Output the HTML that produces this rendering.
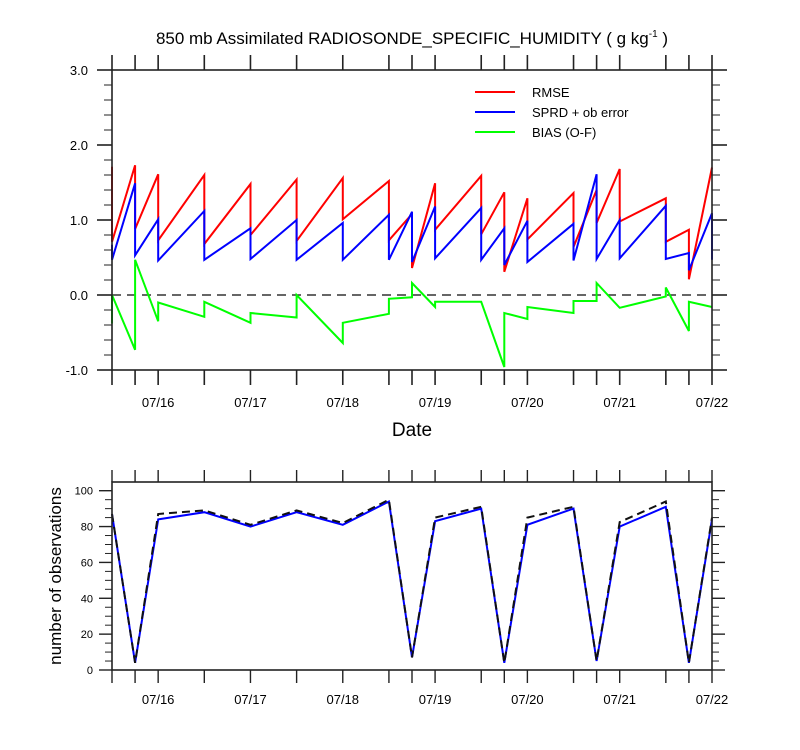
<!DOCTYPE html>
<html><head><meta charset="utf-8">
<style>
html,body{margin:0;padding:0;background:#fff;}
svg{display:block;font-family:"Liberation Sans",sans-serif;}
</style></head>
<body>
<svg id="chart" width="800" height="750" viewBox="0 0 800 750">
<text x="412" y="44" text-anchor="middle" font-size="17" fill="#000">850 mb Assimilated RADIOSONDE_SPECIFIC_HUMIDITY ( g kg<tspan dy="-7" font-size="10">-1</tspan><tspan dy="7"> )</tspan></text>
<text x="412" y="436" text-anchor="middle" font-size="19">Date</text>
<text transform="translate(61,576) rotate(-90)" text-anchor="middle" font-size="17">number of observations</text>
<g>
<line x1="475" y1="92" x2="515" y2="92" stroke="#f00" stroke-width="2"/>
<text x="532" y="97" font-size="13">RMSE</text>
<line x1="475" y1="112" x2="515" y2="112" stroke="#00f" stroke-width="2"/>
<text x="532" y="117" font-size="13">SPRD + ob error</text>
<line x1="475" y1="132" x2="515" y2="132" stroke="#0f0" stroke-width="2"/>
<text x="532" y="137" font-size="13">BIAS (O-F)</text>
</g>
</svg>
<script>
// hours since 07/15 12Z
const hours = [0,6,12,24,36,48,60,72,78,84,96,102,108,120,126,132,144,150,156];
const dateTicks = ["07/16","07/17","07/18","07/19","07/20","07/21","07/22"];
const dateTickHours = [12,36,60,84,108,132,156];
// value before assimilation (arrival) and after (departure) at each time
const rmseF = [1.71,1.73,1.61,1.60,1.48,1.54,1.56,1.52,1.08,1.49,1.59,1.37,1.29,1.36,1.40,1.68,1.29,0.87,1.70];
const rmseA = [0.71,0.88,0.73,0.68,0.80,0.72,1.01,0.73,0.36,0.87,0.81,0.31,0.74,0.64,0.96,0.98,0.71,0.21,1.70];
const sprdF = [0.67,1.49,1.01,1.12,0.89,1.00,0.96,1.07,1.11,1.18,1.16,0.89,0.99,0.95,1.61,1.00,1.19,0.56,1.09];
const sprdA = [0.47,0.53,0.46,0.47,0.48,0.47,0.47,0.47,0.44,0.49,0.47,0.40,0.44,0.46,0.48,0.49,0.48,0.33,0.47];
const biasF = [-0.38,-0.73,-0.35,-0.29,-0.37,-0.30,-0.64,-0.25,-0.03,-0.16,-0.09,-0.96,-0.32,-0.24,-0.08,-0.17,-0.02,-0.48,-0.16];
const biasA = [0.00,0.47,-0.10,-0.09,-0.24,0.00,-0.37,-0.05,0.16,-0.09,-0.09,-0.24,-0.16,-0.08,0.16,-0.17,0.10,-0.09,-0.16];
const obsUsed = [87,4,84,88,80,88,81,94,7,83,90,4,81,90,5,80,91,4,84];
const obsPossible = [87,4,87,89,81,89,82,95,7,85,91,4,85,91,5,82.5,94,4,85];
const topTicks = [3.0,2.0,1.0,0.0,-1.0];
const topTickLabels = ["3.0","2.0","1.0","0.0","-1.0"];
const botTicks = [0,20,40,60,80,100];

const NS="http://www.w3.org/2000/svg";
const svg=document.getElementById('chart');
function mk(tag,attrs,parent){const e=document.createElementNS(NS,tag);for(const k in attrs)e.setAttribute(k,attrs[k]);(parent||svg).appendChild(e);return e;}
const X0=112,X1=712;
const xs=h=>X0+(h/156)*(X1-X0);
const yTop=v=>295-v*75;
const yBot=v=>670-v*1.793;

// ---- top panel
const gT=mk('g',{});


const zl=mk('line',{x1:X0,x2:X1,y1:yTop(0),y2:yTop(0),stroke:'#333','stroke-width':1.6,'stroke-dasharray':'9,6'},gT);


function saw(F,A,color,name,g,ys){
  let d='';
  for(let i=0;i<hours.length;i++){
    const x=xs(hours[i]);
    d+=(i===0?'M':'L')+x.toFixed(1)+','+ys(F[i]).toFixed(1)+'L'+x.toFixed(1)+','+ys(A[i]).toFixed(1);
  }
  const p=mk('path',{d:d,fill:'none',stroke:color,'stroke-width':2,'stroke-linejoin':'miter'},g);
  
  
}
saw(rmseF,rmseA,'#f00','rmse-line',gT,yTop);
saw(sprdF,sprdA,'#00f','sprd-line',gT,yTop);
saw(biasF,biasA,'#0f0','bias-line',gT,yTop);
mk('rect',{x:X0,y:70,width:X1-X0,height:300,fill:'none',stroke:'#222','stroke-width':1.6},gT);
for(let v=-1;v<=3.0001;v+=0.2){
  const vv=Math.round(v*10)/10;const y=yTop(vv);const major=Math.abs(vv-Math.round(vv))<1e-6;
  const L=major?15:8;
  mk('line',{x1:X0-L,x2:X0,y1:y,y2:y,stroke:'#222','stroke-width':major?1.6:1},gT);
  mk('line',{x1:X1,x2:X1+L,y1:y,y2:y,stroke:'#222','stroke-width':major?1.6:1},gT);
}
topTicks.forEach((v,i)=>{
  const t=mk('text',{x:88,y:yTop(v)+5,'text-anchor':'end','font-size':13},gT);
  t.textContent=topTickLabels[i];
  
  
});
hours.forEach(h=>{
  const x=xs(h);
  mk('line',{x1:x,x2:x,y1:55,y2:70,stroke:'#222','stroke-width':1.6},gT);
  mk('line',{x1:x,x2:x,y1:370,y2:385,stroke:'#222','stroke-width':1.6},gT);
});
dateTicks.forEach((s,i)=>{
  const t=mk('text',{x:xs(dateTickHours[i]),y:407,'text-anchor':'middle','font-size':13},gT);
  t.textContent=s;
  
  
});

// ---- bottom panel
const gB=mk('g',{});


function line(arr,color,name,dash){
  let d='';
  arr.forEach((v,i)=>{d+=(i===0?'M':'L')+xs(hours[i]).toFixed(1)+','+yBot(v).toFixed(1);});
  const a={d:d,fill:'none',stroke:color,'stroke-width':2};
  if(dash)a['stroke-dasharray']=dash;
  const p=mk('path',a,gB);
  
  
}
line(obsUsed,'#00f','obs-used-line');
line(obsPossible,'#111','obs-possible-line','8,5');
mk('rect',{x:X0,y:482,width:X1-X0,height:188,fill:'none',stroke:'#222','stroke-width':1.6},gB);
for(let v=0;v<=100;v+=5){
  const y=yBot(v);const major=v%20===0;const L=major?13:7;
  mk('line',{x1:X0-L,x2:X0,y1:y,y2:y,stroke:'#222','stroke-width':major?1.4:1},gB);
  mk('line',{x1:X1,x2:X1+L,y1:y,y2:y,stroke:'#222','stroke-width':major?1.4:1},gB);
}
botTicks.forEach(v=>{
  const t=mk('text',{x:93,y:yBot(v)+4,'text-anchor':'end','font-size':11},gB);
  t.textContent=String(v);
  
  
});
hours.forEach(h=>{
  const x=xs(h);
  mk('line',{x1:x,x2:x,y1:470,y2:482,stroke:'#222','stroke-width':1.4},gB);
  mk('line',{x1:x,x2:x,y1:670,y2:683,stroke:'#222','stroke-width':1.4},gB);
});
dateTicks.forEach((s,i)=>{
  const t=mk('text',{x:xs(dateTickHours[i]),y:704,'text-anchor':'middle','font-size':13},gB);
  t.textContent=s;
  
  
});
</script>
</body></html>
